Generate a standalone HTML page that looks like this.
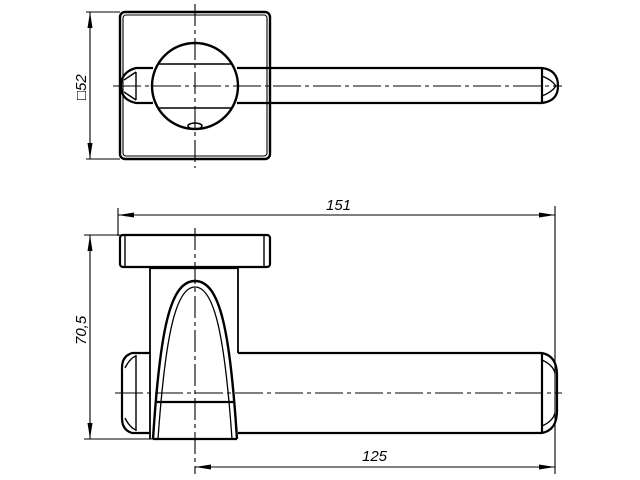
<!DOCTYPE html>
<html><head><style>body{margin:0;background:#fff}svg{display:block}</style></head><body>
<svg width="640" height="480" viewBox="0 0 640 480" xmlns="http://www.w3.org/2000/svg">
<defs>
<marker id="a" viewBox="0 0 16 5" refX="16" refY="2.5" markerWidth="16" markerHeight="5" markerUnits="userSpaceOnUse" orient="auto-start-reverse"><path d="M0,0 L16,2.5 L0,5 Z" fill="#000"/></marker>
</defs>
<g fill="none" stroke="#000" stroke-width="1.1">
<!-- TOP VIEW -->
<line x1="86" y1="12" x2="120" y2="12"/><line x1="86" y1="159" x2="120" y2="159"/>
<line x1="90" y1="12" x2="90" y2="159" marker-start="url(#a)" marker-end="url(#a)"/>
<rect x="120" y="12" width="150" height="147" rx="5" stroke-width="2.4"/>
<rect x="123" y="15" width="144" height="141" rx="3"/>
<path d="M237,68 H542 M237,103 H542 M542,68 V103" stroke-width="2.2"/>
<path d="M542,68 Q558,70 558,86 Q558,101 542,103" stroke-width="2.2"/>
<path d="M542,76 Q552,80 556,86 M542,96 Q552,92 556,86" stroke-width="1.4"/>
<path d="M153,68 H136 Q121,72 121,86 Q121,100 136,103 H153" stroke-width="2.2"/>
<path d="M136,72 V100 M124,80 Q130,76 136,72 M124,92 Q130,96 136,100" stroke-width="1.4"/>
<circle cx="195" cy="86" r="43" fill="#fff" stroke-width="2.4"/>
<line x1="158" y1="64" x2="232" y2="64" stroke-width="1.4"/><line x1="158" y1="108" x2="232" y2="108" stroke-width="1.4"/>
<ellipse cx="195" cy="126" rx="7" ry="3" stroke-width="1.6"/>
<line x1="113" y1="86" x2="562" y2="86" stroke-dasharray="28,4,4,4"/>
<line x1="195" y1="4" x2="195" y2="168" stroke-dasharray="22,4,4,4"/>
<!-- SIDE VIEW -->
<line x1="118" y1="208" x2="118" y2="236"/>
<line x1="555" y1="206" x2="555" y2="474"/>
<line x1="118" y1="215" x2="555" y2="215" marker-start="url(#a)" marker-end="url(#a)"/>
<line x1="84" y1="235" x2="122" y2="235"/><line x1="84" y1="439" x2="155" y2="439"/>
<line x1="90" y1="235" x2="90" y2="439" marker-start="url(#a)" marker-end="url(#a)"/>
<line x1="195" y1="467" x2="555" y2="467" marker-start="url(#a)" marker-end="url(#a)"/>
<rect x="120" y="235" width="150" height="32" rx="3" stroke-width="2.2"/>
<line x1="125" y1="236" x2="125" y2="266" stroke-width="1.4"/><line x1="264" y1="236" x2="264" y2="266" stroke-width="1.4"/>
<line x1="150" y1="267" x2="150" y2="439" stroke-width="1.8"/>
<line x1="238" y1="267" x2="238" y2="353" stroke-width="1.8"/>
<line x1="150" y1="268" x2="238" y2="268" stroke-width="2.2"/>
<path d="M238,353 H542 M238,433 H542 M542,353 V433" stroke-width="2.2"/>
<path d="M542,353 Q557,356 557,375 V411 Q557,430 542,433" stroke-width="2.2"/>
<path d="M542,360 Q553,365 555,373 M542,426 Q553,421 555,413" stroke-width="1.4"/>
<path d="M150,353 H132 Q122,356 122,368 V418 Q122,430 132,433 H150" stroke-width="2.2"/>
<path d="M136,355 V431 M125,368 Q130,358 136,356 M125,418 Q130,428 136,430" stroke-width="1.4"/>
<path d="M153,439 C160,330 170,281 195,281 C220,281 230,330 237,439" stroke-width="2.4" fill="#fff"/>
<path d="M158,439 C165,340 175,287 195,287 C215,287 225,340 232,439" stroke-width="1.3"/>
<line x1="153" y1="439" x2="237" y2="439" stroke-width="2.2"/>
<line x1="157" y1="402" x2="233" y2="402" stroke-width="2.2"/>
<line x1="115" y1="393" x2="562" y2="393" stroke-dasharray="28,4,4,4"/>
<line x1="195" y1="228" x2="195" y2="474" stroke-dasharray="22,4,4,4"/>
</g>
<g font-family="Liberation Sans, sans-serif" font-style="italic" font-size="15" fill="#000">
<text x="326" y="210">151</text>
<text x="362" y="461">125</text>
<text transform="translate(86,345) rotate(-90)">70,5</text>
<text transform="translate(86,100) rotate(-90)">□52</text>
</g>
</svg>
</body></html>
